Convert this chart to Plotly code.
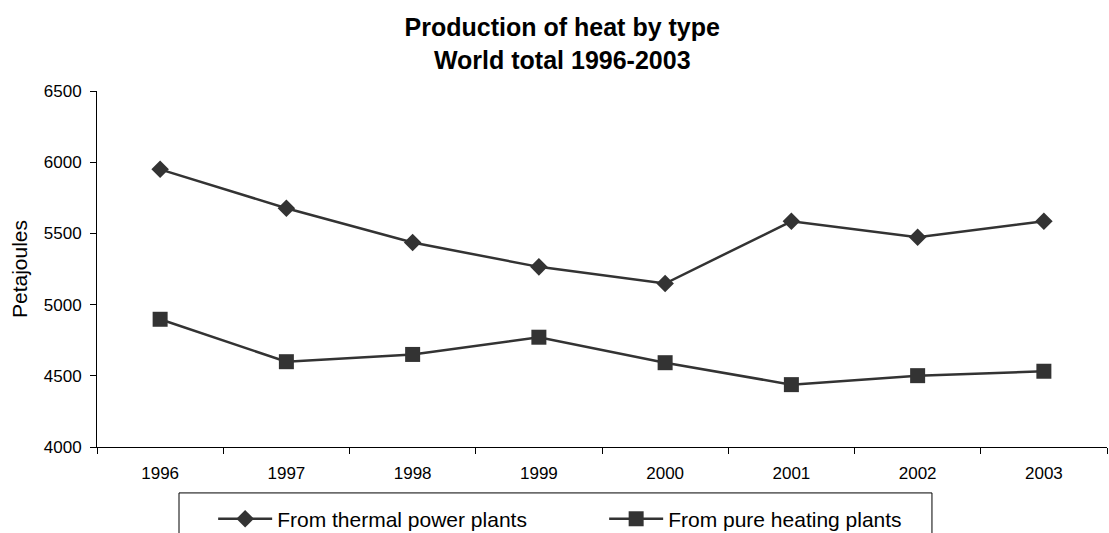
import plotly.graph_objects as go

years = ["1996", "1997", "1998", "1999", "2000", "2001", "2002", "2003"]
thermal_power = [5950, 5677, 5436, 5265, 5148, 5585, 5473, 5585]
pure_heating = [4897, 4599, 4650, 4771, 4592, 4438, 4501, 4532]
y_ticks = [4000, 4500, 5000, 5500, 6000, 6500]

FONT = "Liberation Sans, Arial, sans-serif"
INK = "#333333"

fig = go.Figure()
fig.add_trace(go.Scatter(
    x=years, y=thermal_power, mode="lines+markers",
    name="From thermal power plants",
    line=dict(color=INK, width=2.5),
    marker=dict(symbol="diamond", size=13.5, color=INK),
))
fig.add_trace(go.Scatter(
    x=years, y=pure_heating, mode="lines+markers",
    name="From pure heating plants",
    line=dict(color=INK, width=2.5),
    marker=dict(symbol="square", size=15, color=INK),
))

# frame around the legend, running off the bottom edge of the page
fig.add_shape(
    type="rect", xref="paper", yref="paper",
    x0=0.0812, x1=0.8267, y0=-0.129, y1=-0.30,
    line=dict(color="black", width=1), fillcolor="rgba(0,0,0,0)",
    layer="below",
)

fig.update_layout(
    width=1109, height=533,
    margin=dict(l=97, r=2, t=91, b=86, autoexpand=False),
    paper_bgcolor="white", plot_bgcolor="white",
    font=dict(family=FONT, size=17, color="black"),
    title=dict(
        text="<b>Production of heat by type<br>World total 1996-2003</b>",
        x=0.507, xanchor="center", y=0.932, yanchor="top",
        font=dict(size=25, color="black"),
    ),
    showlegend=True,
    legend=dict(
        orientation="h", x=0.115, xanchor="left", y=-0.145, yanchor="top",
        borderwidth=0, bgcolor="rgba(0,0,0,0)",
        font=dict(size=21, color="black"),
        entrywidth=322, entrywidthmode="pixels",
        itemwidth=54,
    ),
    xaxis=dict(
        type="category", showline=True, linecolor="black", linewidth=1,
        showgrid=False, ticks="outside", tickson="boundaries", ticklen=6,
        tickcolor="black", tickfont=dict(size=17), ticklabelstandoff=11,
        range=[-0.5, 7.5],
    ),
    yaxis=dict(
        range=[4000, 6500], tickvals=y_ticks, showline=True,
        linecolor="black", linewidth=1, showgrid=False, zeroline=False,
        ticks="outside", ticklen=6, tickcolor="black",
        tickfont=dict(size=17), ticklabelstandoff=5,
        title=dict(text="Petajoules", font=dict(size=21), standoff=10),
    ),
)

fig.write_html("out.html")
